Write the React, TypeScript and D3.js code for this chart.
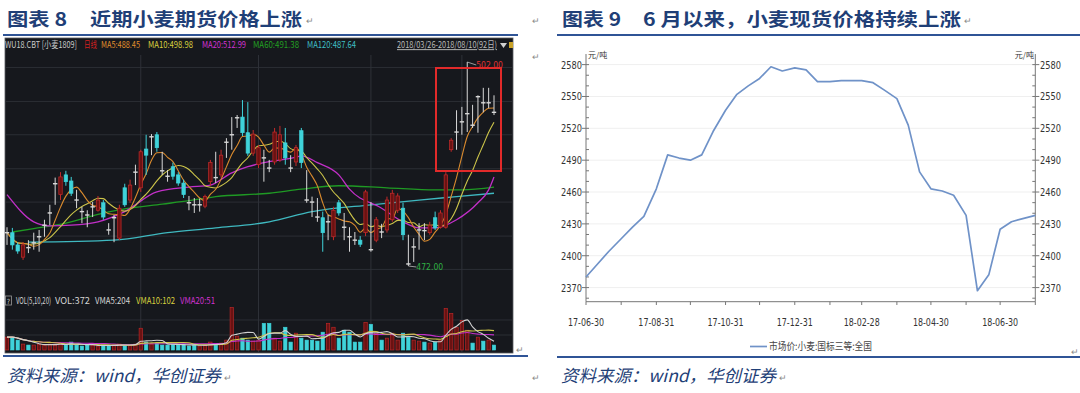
import * as d3 from "d3";

const W = 1080;
const H = 393;

// ---------- 图表8：小麦期货日线 2018/03/26-2018/08/10 (92日) ----------
const kOpen = [
  476.9, 476.9, 475.1, 473.3, 474.7, 475.4, 476.3, 478.0, 479.8, 484.1,
  482.5, 485.4, 484.5, 481.7, 480.0, 479.5, 480.7, 480.2, 481.3, 477.3,
  479.1, 476.1, 483.5, 481.7, 485.8, 483.5, 489.2, 491.0, 491.3, 486.0,
  485.2, 486.6, 485.4, 484.2, 481.3, 481.0, 481.0, 480.8, 484.4, 485.0,
  485.4, 490.2, 491.3, 493.8, 493.9, 491.6, 488.6, 486.9, 487.9, 486.4,
  487.3, 487.6, 490.1, 486.4, 487.3, 491.9, 481.7, 481.4, 479.2, 479.1,
  478.5, 476.3, 481.3, 477.7, 476.3, 475.8, 475.8, 476.9, 474.4, 475.8,
  477.0, 477.3, 478.8, 480.2, 480.5, 472.3, 474.8, 477.3, 477.2, 476.9,
  479.1, 477.7, 477.7, 489.1, 491.7, 493.2, 494.4, 492.7, 496.9, 496.0,
  496.0, 494.6,
];
const kClose = [
  476.9, 475.1, 474.2, 475.1, 474.7, 475.4, 476.3, 478.0, 479.8, 484.1,
  485.1, 484.4, 482.7, 481.7, 480.0, 479.5, 480.7, 481.7, 479.2, 477.3,
  479.1, 480.5, 481.0, 483.9, 485.8, 488.8, 488.3, 491.0, 489.4, 486.0,
  485.2, 485.2, 484.2, 482.5, 481.3, 481.0, 481.0, 482.2, 487.2, 485.0,
  488.3, 490.2, 491.3, 493.8, 491.6, 488.6, 491.4, 489.4, 487.9, 486.4,
  491.7, 491.3, 487.9, 486.4, 489.4, 487.2, 481.7, 481.4, 479.2, 476.9,
  478.5, 480.2, 479.8, 477.7, 476.3, 475.8, 475.2, 482.9, 474.4, 478.8,
  477.0, 481.7, 482.7, 482.3, 476.6, 472.3, 474.8, 477.3, 477.2, 478.0,
  477.6, 479.8, 485.4, 490.5, 491.7, 493.2, 494.4, 492.7, 496.9, 496.0,
  496.0, 494.6,
];
const kHigh = [
  477.7, 477.6, 475.5, 475.5, 475.8, 476.9, 477.3, 478.8, 481.0, 485.0,
  485.8, 486.0, 485.1, 483.2, 480.7, 480.2, 481.4, 482.3, 481.7, 478.3,
  479.5, 481.0, 484.1, 484.7, 486.9, 489.1, 491.3, 491.4, 491.7, 488.8,
  486.1, 487.2, 485.8, 484.7, 482.3, 482.0, 481.9, 482.5, 487.6, 488.8,
  489.1, 490.8, 493.9, 494.2, 496.4, 496.1, 492.0, 489.8, 489.1, 487.6,
  492.3, 492.6, 492.3, 488.3, 489.8, 492.3, 486.1, 482.2, 482.0, 480.0,
  479.5, 480.7, 481.7, 479.8, 477.7, 477.0, 476.4, 483.2, 481.4, 479.2,
  478.2, 482.2, 483.2, 482.7, 481.3, 476.6, 476.1, 478.3, 478.3, 478.5,
  480.0, 480.2, 485.8, 490.8, 494.9, 495.4, 502.0, 495.7, 497.1, 498.2,
  498.2, 497.1,
];
const kLow = [
  475.1, 474.4, 473.8, 472.9, 473.9, 474.4, 474.1, 476.3, 478.0, 481.0,
  481.7, 483.8, 482.3, 480.5, 478.3, 477.7, 479.2, 480.0, 478.8, 476.6,
  475.5, 475.8, 480.7, 481.3, 483.9, 482.9, 485.4, 488.3, 488.8, 485.4,
  484.4, 484.7, 483.8, 482.0, 480.2, 479.8, 480.0, 480.5, 483.8, 484.2,
  485.0, 487.9, 489.1, 492.3, 491.1, 488.2, 488.2, 486.4, 484.4, 485.8,
  486.9, 487.3, 486.9, 485.8, 486.7, 486.4, 481.3, 479.2, 478.5, 474.1,
  475.8, 475.8, 479.4, 475.8, 474.1, 475.1, 474.8, 476.4, 474.1, 475.5,
  476.1, 476.9, 478.5, 479.8, 475.8, 472.0, 472.6, 474.4, 475.8, 476.6,
  477.3, 477.5, 477.5, 488.8, 489.1, 491.3, 491.7, 492.3, 491.6, 494.6,
  495.2, 494.2,
];
const kVolume = [
  286, 286, 220, 132, 110, 110, 132, 110, 132, 110,
  154, 110, 176, 110, 88, 110, 110, 88, 110, 88,
  110, 132, 110, 110, 132, 484, 176, 132, 154, 110,
  110, 132, 110, 132, 88, 110, 88, 110, 176, 132,
  154, 220, 946, 308, 264, 220, 198, 220, 594, 594,
  264, 198, 506, 176, 374, 264, 220, 220, 198, 396,
  594, 506, 264, 440, 396, 176, 176, 616, 572, 374,
  220, 264, 374, 220, 374, 286, 220, 198, 176, 154,
  176, 220, 924, 814, 506, 660, 440, 154, 286, 198,
  220, 110,
];

// 均线读数：[K线序号, 价格]
const ma20Pts: [number, number][] = [
  [0, 482.5], [5, 478.5], [8, 477.9], [12, 478.0], [17, 478.5], [22, 480.0],
  [28, 482.9], [34, 483.6], [38, 483.9], [42, 485.7], [45, 486.6], [48, 487.2],
  [54, 488.0], [55, 488.2], [58, 487.2], [62, 485.4], [64, 483.3], [70, 480.5],
  [74, 478.5], [77, 477.6], [80, 477.6], [84, 478.8], [88, 481.3], [90, 483.2],
  [91, 485.1],
];
const ma60Pts: [number, number][] = [
  [1, 477.0], [5, 477.5], [11, 478.3], [17, 479.6], [22, 480.4], [29, 481.1],
  [34, 481.6], [39, 482.2], [49, 482.7], [55, 483.3], [62, 483.8], [71, 483.5],
  [80, 483.2], [85, 483.2], [91, 483.6],
];
const ma120Pts: [number, number][] = [
  [4, 475.5], [20, 475.8], [30, 476.9], [39, 477.6], [49, 478.5], [57, 480.0],
  [68, 481.0], [77, 481.7], [84, 482.2], [91, 482.7],
];

const monthSplits = [25, 47, 68, 85];
const priceGrid = [501.2, 496.2, 491.3, 486.3, 481.4, 476.4, 471.5];
const volGrid = [333, 667];

// ---------- 图表9：市场价:小麦:国标三等:全国 (元/吨) ----------
const spotDates = [
  "2017-06-30", "2017-07-10", "2017-07-20", "2017-07-31", "2017-08-10", "2017-08-20",
  "2017-08-31", "2017-09-10", "2017-09-20", "2017-09-30", "2017-10-10", "2017-10-20",
  "2017-10-31", "2017-11-10", "2017-11-20", "2017-11-30", "2017-12-10", "2017-12-20",
  "2017-12-31", "2018-01-10", "2018-01-20", "2018-01-31", "2018-02-10", "2018-02-20",
  "2018-02-28", "2018-03-10", "2018-03-20", "2018-03-31", "2018-04-10", "2018-04-20",
  "2018-04-30", "2018-05-10", "2018-05-20", "2018-05-31", "2018-06-10", "2018-06-20",
  "2018-06-30", "2018-07-10", "2018-07-20", "2018-07-31",
];
const spotPrice = [
  2380, 2392, 2404, 2416, 2427, 2437,
  2463, 2495, 2492, 2490, 2495, 2517,
  2537, 2552, 2560, 2567, 2578, 2574,
  2577, 2575, 2564, 2564, 2565, 2565,
  2565, 2563, 2556, 2548, 2523, 2479,
  2463, 2461, 2457, 2438, 2367, 2382,
  2425, 2432, 2435, 2438,
];
const spotTicks = [2370, 2400, 2430, 2460, 2490, 2520, 2550, 2580];

const cjk = "'Noto Sans CJK SC', 'Noto Sans', sans-serif";
const narrow = "'Liberation Sans Narrow', 'DejaVu Sans Condensed', 'Liberation Sans', sans-serif";
const titleBlue = "#1f3f77";
const ruleBlue = "#2f5496";

const movingAvg = (arr: number[], n: number) =>
  arr.map((_, i) => d3.mean(arr.slice(Math.max(0, i - n + 1), i + 1)) as number);

const RED = "#c42a2a";
const RED_FILL = "#6a1212";
const CYAN = "#3fd3da";
const WHITE = "#d8d8d8";

// condensed label, like the terminal's narrow font
function Cond(props: { x: number; y: number; w: number; fill: string; text: string; underline?: boolean }) {
  const s = 0.68;
  return (
    <text
      transform={`translate(${props.x},${props.y}) scale(${s},1)`}
      fill={props.fill}
      fontFamily={cjk}
      fontSize={9.5}
      textLength={props.w / s}
      lengthAdjust="spacingAndGlyphs"
      textDecoration={props.underline ? "underline" : undefined}
    >
      {props.text}
    </text>
  );
}

function FuturesPanel() {
  const n = kClose.length;
  const x = d3.scaleLinear().domain([0, n - 1]).range([7, 494]);
  const y = d3.scaleLinear().domain([472, 502]).range([266, 62]);
  const vy = d3.scaleLinear().domain([0, 1000]).range([350, 305]);

  const line = d3
    .line<[number, number]>()
    .x((d) => x(d[0]))
    .y((d) => y(d[1]))
    .curve(d3.curveMonotoneX);
  const vline = d3
    .line<[number, number]>()
    .x((d) => x(d[0]))
    .y((d) => vy(d[1]))
    .curve(d3.curveMonotoneX);

  const ma5 = movingAvg(kClose, 5).map((v, i) => [i, v] as [number, number]);
  const ma10 = movingAvg(kClose, 10).map((v, i) => [i, v] as [number, number]);
  const vma5 = movingAvg(kVolume, 5).map((v, i) => [i, v] as [number, number]);
  const vma10 = movingAvg(kVolume, 10).map((v, i) => [i, v] as [number, number]);
  const vma20 = movingAvg(kVolume, 20).map((v, i) => [i, v] as [number, number]);

  const hiIdx = d3.maxIndex(kHigh);
  const loIdx = d3.minIndex(kLow);

  const kind = (i: number) => {
    const d = kClose[i] - kOpen[i];
    if (d > 0.05) return "up";
    if (d < -0.05) return "down";
    return "flat";
  };
  const volUp = (i: number) => {
    const k = kind(i);
    if (k !== "flat") return k === "up";
    return i === 0 || kClose[i] >= kClose[i - 1];
  };

  const bw = 3.4;

  return (
    <g>
      <rect x={5} y={38} width={508} height={315} fill="#16181d" stroke="#5a5d63" strokeWidth={0.8} />
      {/* grid */}
      {priceGrid.map((p) => (
        <line key={p} x1={6} x2={512} y1={y(p)} y2={y(p)} stroke="#2b2e35" strokeWidth={1} />
      ))}
      {volGrid.map((v) => (
        <line key={v} x1={6} x2={512} y1={vy(v)} y2={vy(v)} stroke="#2b2e35" strokeWidth={1} />
      ))}
      {monthSplits.map((i) => (
        <line key={i} x1={x(i)} x2={x(i)} y1={55} y2={352} stroke="#2e3138" strokeWidth={1} />
      ))}

      {/* header */}
      <Cond x={5} y={48} w={72} fill="#c8c8c8" text="WU18.CBT [小麦1809]" />
      <Cond x={84} y={48} w={13} fill="#d42020" text="日线" />
      <Cond x={101} y={48} w={39} fill="#e08e2c" text="MA5:488.45" />
      <Cond x={148} y={48} w={45} fill="#d6cf3e" text="MA10:498.98" />
      <Cond x={202} y={48} w={44} fill="#d032d0" text="MA20:512.99" />
      <Cond x={253} y={48} w={46} fill="#22a022" text="MA60:491.38" />
      <Cond x={307} y={48} w={49} fill="#3fbfc4" text="MA120:487.64" />
      <Cond x={397} y={48} w={100} fill="#b8b8b8" text="2018/03/26-2018/08/10(92日)" underline />
      <path d="M500,43 L507,43 L503.5,48 Z" fill="#d0d0d0" />
      <rect x={509} y={42} width={4} height={6} fill="#c9a227" />

      {/* MA lines */}
      <path d={line(ma120Pts) ?? ""} fill="none" stroke="#3fb9c0" strokeWidth={1.3} />
      <path d={line(ma60Pts) ?? ""} fill="none" stroke="#1f9a24" strokeWidth={1.3} />
      <path d={line(ma20Pts) ?? ""} fill="none" stroke="#c22fc8" strokeWidth={1.3} />
      <path d={line(ma10) ?? ""} fill="none" stroke="#cdc54a" strokeWidth={1.1} />
      <path d={line(ma5) ?? ""} fill="none" stroke="#d98a2e" strokeWidth={1.1} />

      {/* candles */}
      {kClose.map((c, i) => {
        const o = kOpen[i];
        const k = kind(i);
        const col = k === "up" ? RED : k === "down" ? CYAN : WHITE;
        const cx = x(i);
        return (
          <g key={i}>
            <line x1={cx} x2={cx} y1={y(kHigh[i])} y2={y(kLow[i])} stroke={col} strokeWidth={1} />
            {k === "flat" ? (
              <line x1={cx - 2.2} x2={cx + 2.2} y1={y(c)} y2={y(c)} stroke={WHITE} strokeWidth={1.4} />
            ) : (
              <rect
                x={cx - bw / 2}
                width={bw}
                y={y(Math.max(o, c))}
                height={Math.max(1, Math.abs(y(o) - y(c)))}
                fill={k === "up" ? RED_FILL : CYAN}
                stroke={k === "up" ? RED : CYAN}
                strokeWidth={0.7}
              />
            )}
          </g>
        );
      })}

      {/* high / low marks */}
      <line x1={x(hiIdx)} x2={x(hiIdx) + 9} y1={y(kHigh[hiIdx])} y2={y(kHigh[hiIdx]) + 3} stroke="#bbbbbb" strokeWidth={0.8} />
      <text x={x(hiIdx) + 9} y={y(kHigh[hiIdx]) + 6} fill="#e03030" fontSize={8.5} fontFamily={narrow}>
        {kHigh[hiIdx].toFixed(2)}
      </text>
      <line x1={x(loIdx)} x2={x(loIdx) + 8} y1={y(kLow[loIdx])} y2={y(kLow[loIdx]) + 1} stroke="#bbbbbb" strokeWidth={0.8} />
      <text x={x(loIdx) + 8} y={y(kLow[loIdx]) + 4} fill="#2fb043" fontSize={8.5} fontFamily={narrow}>
        {kLow[loIdx].toFixed(2)}
      </text>

      {/* red highlight box */}
      <rect x={436} y={68} width={65} height={103} fill="none" stroke="#e22a2a" strokeWidth={2} />

      {/* volume header */}
      <rect x={5.5} y={296} width={6} height={9} fill="none" stroke="#9a9a9a" strokeWidth={0.8} />
      <text x={6.8} y={303.5} fill="#cfcfcf" fontSize={7} fontFamily={narrow}>?</text>
      <Cond x={16} y={304} w={35} fill="#d4d4d4" text="VOL(5,10,20)" />
      <Cond x={55} y={304} w={35} fill="#d4d4d4" text="VOL:372" />
      <Cond x={95} y={304} w={35} fill="#d4d4d4" text="VMA5:204" />
      <Cond x={136} y={304} w={39} fill="#d6cf3e" text="VMA10:102" />
      <Cond x={180} y={304} w={35} fill="#d032d0" text="VMA20:51" />

      {/* volume bars */}
      {kVolume.map((v, i) => {
        const up = volUp(i);
        return (
          <rect
            key={i}
            x={x(i) - bw / 2}
            width={bw}
            y={vy(v)}
            height={vy(0) - vy(v)}
            fill={up ? RED_FILL : CYAN}
            stroke={up ? RED : CYAN}
            strokeWidth={0.6}
          />
        );
      })}
      <path d={vline(vma20) ?? ""} fill="none" stroke="#c22fc8" strokeWidth={1.1} />
      <path d={vline(vma10) ?? ""} fill="none" stroke="#cdc54a" strokeWidth={1.1} />
      <path d={vline(vma5) ?? ""} fill="none" stroke="#d0d0d0" strokeWidth={1.1} />
    </g>
  );
}

function SpotPanel() {
  const parse = d3.timeParse("%Y-%m-%d");
  const dates = spotDates.map((s) => parse(s) as Date);
  const start = parse("2017-06-30") as Date;
  const end = parse("2018-07-31") as Date;
  const x = d3.scaleTime().domain([start, end]).range([586, 1035.3]);
  const y = d3.scaleLinear().domain([2356.7, 2590]).range([301.7, 54]);

  const monthEnds = d3.timeMonth
    .range(d3.timeMonth.offset(start, 0), d3.timeDay.offset(end, 1))
    .map((m) => d3.timeDay.offset(d3.timeMonth.offset(m, 1), -1));
  const allEnds = [start, ...monthEnds.filter((d) => d > start && d <= end)];
  const fmt = d3.timeFormat("%y-%m-%d");
  const minor = d3.range(2360, 2590, 10);

  const line = d3
    .line<number>()
    .x((_, i) => x(dates[i]))
    .y((v) => y(v));

  const axisCol = "#777";
  const x0 = 586;
  const x1 = 1035.3;

  return (
    <g>
      {spotTicks.map((t) => (
        <line key={t} x1={x0} x2={x1} y1={y(t)} y2={y(t)} stroke="#efefef" strokeWidth={1} />
      ))}
      {/* axes */}
      <line x1={x0} x2={x0} y1={54} y2={301.7} stroke={axisCol} strokeWidth={1} />
      <line x1={x1} x2={x1} y1={54} y2={301.7} stroke={axisCol} strokeWidth={1} />
      <line x1={x0} x2={x1} y1={301.7} y2={301.7} stroke={axisCol} strokeWidth={1} />
      {minor.map((t) => (
        <g key={t}>
          <line x1={x0} x2={x0 + 3} y1={y(t)} y2={y(t)} stroke={axisCol} />
          <line x1={x1 - 3} x2={x1} y1={y(t)} y2={y(t)} stroke={axisCol} />
        </g>
      ))}
      {spotTicks.map((t) => (
        <g key={t} fontFamily={narrow} fontSize={11} fill="#333">
          <line x1={x0 - 4} x2={x0} y1={y(t)} y2={y(t)} stroke={axisCol} />
          <line x1={x1} x2={x1 + 4} y1={y(t)} y2={y(t)} stroke={axisCol} />
          <text x={582} y={y(t) + 4} textAnchor="end" textLength={21} lengthAdjust="spacingAndGlyphs">{t}</text>
          <text x={1040} y={y(t) + 4} textLength={21} lengthAdjust="spacingAndGlyphs">{t}</text>
        </g>
      ))}
      {allEnds.map((d, i) => (
        <g key={i}>
          <line x1={x(d)} x2={x(d)} y1={301.7} y2={305} stroke={axisCol} />
          {i % 2 === 0 && (
            <text
              x={x(d)}
              y={326}
              textAnchor="middle"
              fontFamily={narrow}
              fontSize={11}
              fill="#333"
              textLength={36}
              lengthAdjust="spacingAndGlyphs"
            >
              {fmt(d)}
            </text>
          )}
        </g>
      ))}
      <text x={588} y={58} fontFamily={cjk} fontSize={8} fill="#333">元/吨</text>
      <text x={1034} y={58} fontFamily={cjk} fontSize={8} fill="#333" textAnchor="end">元/吨</text>

      <path d={line(spotPrice) ?? ""} fill="none" stroke="#6f92c8" strokeWidth={1.7} strokeLinejoin="round" />

      {/* legend */}
      <line x1={750} x2={767} y1={346.5} y2={346.5} stroke="#6f92c8" strokeWidth={1.7} />
      <text x={769} y={350} fontFamily={cjk} fontSize={10} fill="#444" textLength={103} lengthAdjust="spacingAndGlyphs">
        市场价:小麦:国标三等:全国
      </text>
    </g>
  );
}

export default function App() {
  const mark = (x: number, y: number, k: string) => (
    <text key={k} x={x} y={y} fontSize={9} fill="#8a8a8a" fontFamily={cjk}>↵</text>
  );
  return (
    <div style={{ position: "absolute", left: 0, top: 0 }}>
      <svg width={W} height={H} style={{ display: "block", background: "#fff" }}>
        {/* titles */}
        <g fontFamily={cjk} fontWeight={700} fontSize={18.5} fill={titleBlue}>
          <text x={7} y={26} textLength={60} lengthAdjust="spacingAndGlyphs">图表 8</text>
          <text x={90} y={26} textLength={212} lengthAdjust="spacingAndGlyphs">近期小麦期货价格上涨</text>
          <text x={562} y={26} textLength={59} lengthAdjust="spacingAndGlyphs">图表 9</text>
          <text x={643} y={26} textLength={318} lengthAdjust="spacingAndGlyphs">6 月以来，小麦现货价格持续上涨</text>
        </g>
        <line x1={3} x2={518} y1={35} y2={35} stroke={ruleBlue} strokeWidth={2} />
        <line x1={557} x2={1080} y1={35} y2={35} stroke={ruleBlue} strokeWidth={2} />

        <FuturesPanel />
        <SpotPanel />

        <line x1={3} x2={528} y1={356} y2={356} stroke={ruleBlue} strokeWidth={2} />
        <line x1={557} x2={1080} y1={357} y2={357} stroke={ruleBlue} strokeWidth={2} />

        {/* sources */}
        <g fontFamily={cjk} fontStyle="italic" fontSize={17} fill={titleBlue}>
          <text x={7} y={382} textLength={214} lengthAdjust="spacingAndGlyphs">资料来源：wind，华创证券</text>
          <text x={561} y={382} textLength={215} lengthAdjust="spacingAndGlyphs">资料来源：wind，华创证券</text>
        </g>

        {[
          mark(306, 24, "a"),
          mark(532, 24, "b"),
          mark(532, 60, "c"),
          mark(516, 353, "d"),
          mark(224, 381, "e"),
          mark(532, 381, "f"),
          mark(964, 24, "g"),
          mark(1071, 355, "h"),
          mark(779, 381, "i"),
        ]}
      </svg>
    </div>
  );
}
